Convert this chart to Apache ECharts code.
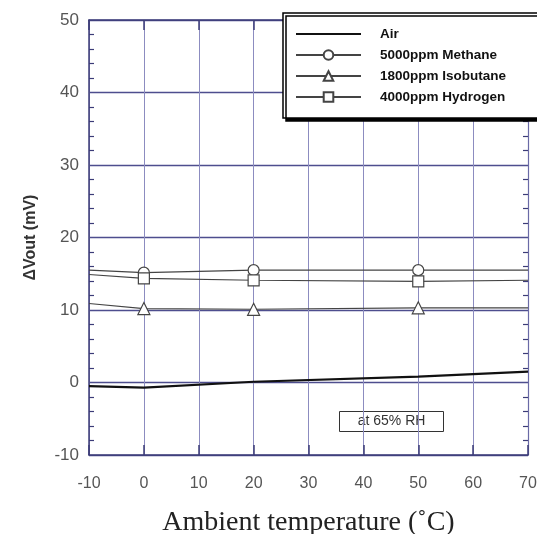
<!DOCTYPE html>
<html>
<head>
<meta charset="utf-8">
<script src="https://cdn.jsdelivr.net/npm/echarts@6/dist/echarts.min.js"></script>
<style>
  html, body { margin: 0; padding: 0; background: #fff; }
  #chart { width: 537px; height: 534px; }
</style>
</head>
<body>
<div id="chart"></div>
<script>
// temperatures where readings were taken
const temps = [-10, 0, 20, 50, 70]
// which readings carry a marker
const marked = [false, true, true, true, false]

const airVals = [-0.5, -0.7, 0.1, 0.8, 1.5]
const methaneVals = [15.5, 15.15, 15.5, 15.5, 15.5]
const isobutaneVals = [10.9, 10.2, 10.1, 10.3, 10.3]
const hydrogenVals = [14.9, 14.35, 14.1, 13.95, 14.1]

const seriesNames = ['Air', '5000ppm Methane', '1800ppm Isobutane', '4000ppm Hydrogen']

const xTicks = [-10, 0, 10, 20, 30, 40, 50, 60, 70]
const yTicks = [-10, 0, 10, 20, 30, 40, 50]

const chart = echarts.init(document.getElementById('chart'))

const toData = (vals) => vals.map((v, i) => {
  return marked[i] ? [temps[i], v] : { value: [temps[i], v], symbol: 'none' }
})

const navy = '#3c3c78'
const gridBlue = '#4e4e8e'
const vertBlue = '#8c8cc0'

const makeSeries = (name, vals, symbol, isAir) => ({
  name: name,
  type: 'line',
  data: isAir ? vals.map((v, i) => [temps[i], v]) : toData(vals),
  symbol: isAir ? 'none' : symbol,
  symbolSize: symbol === 'triangle' ? 12 : 11,
  showSymbol: !isAir,
  lineStyle: { color: isAir ? '#111' : '#444', width: isAir ? 2.2 : 1.2 },
  itemStyle: { color: '#fff', borderColor: '#444', borderWidth: 1.2 },
  z: isAir ? 4 : 3,
  animation: false
})

const option = {
  animation: false,
  grid: { left: 89, right: 9, top: 20, bottom: 79, containLabel: false, outerBoundsMode: 'none' },
  legend: {
    orient: 'vertical',
    left: 283,
    top: 13,
    padding: [14, 40, 14, 12],
    itemWidth: 65,
    itemHeight: 12,
    itemGap: 7,
    backgroundColor: '#fff',
    borderColor: '#000',
    borderWidth: 1.5,
    shadowColor: '#000',
    shadowBlur: 0,
    shadowOffsetX: 3,
    shadowOffsetY: 3,
    data: [
      { name: seriesNames[0], itemStyle: { opacity: 0 } },
      seriesNames[1],
      seriesNames[2],
      seriesNames[3]
    ],
    textStyle: {
      fontFamily: 'Liberation Sans, Arial, sans-serif',
      fontWeight: 'bold',
      fontSize: 13.5,
      color: '#111',
      padding: [0, 0, 0, 14]
    }
  },
  xAxis: [
    {
      type: 'value',
      position: 'bottom',
      min: -10,
      max: 70,
      interval: 10,
      name: 'Ambient temperature (˚C)',
      nameLocation: 'middle',
      nameGap: 54,
      nameTextStyle: { fontFamily: 'Liberation Serif, Times New Roman, serif', fontSize: 28, color: '#222' },
      axisLine: { show: true, onZero: false, lineStyle: { color: navy, width: 1.5 } },
      axisTick: { show: true, inside: true, length: 10, lineStyle: { color: navy, width: 1.5 } },
      axisLabel: {
        margin: 21,
        fontFamily: 'Liberation Sans, Arial, sans-serif',
        fontSize: 16,
        color: '#555',
        formatter: (v) => xTicks.includes(v) ? String(v) : ''
      },
      splitLine: { show: true, lineStyle: { color: vertBlue, width: 1 } }
    },
    {
      type: 'value',
      position: 'top',
      min: -10,
      max: 70,
      interval: 10,
      axisLine: { show: true, onZero: false, lineStyle: { color: navy, width: 1.5 } },
      axisTick: { show: true, inside: true, length: 10, lineStyle: { color: navy, width: 1.5 } },
      axisLabel: { show: false },
      splitLine: { show: false }
    }
  ],
  yAxis: [
    {
      type: 'value',
      position: 'left',
      min: -10,
      max: 50,
      interval: 10,
      name: 'ΔVout (mV)',
      nameLocation: 'middle',
      nameGap: 50,
      nameTextStyle: { fontFamily: 'Liberation Sans, Arial, sans-serif', fontSize: 16, fontWeight: 'bold', color: '#333' },
      axisLine: { show: true, onZero: false, lineStyle: { color: navy, width: 1.5 } },
      axisTick: { show: false, inside: true },
      minorTick: { show: true, splitNumber: 5, length: 5, lineStyle: { color: navy, width: 1.2 } },
      axisLabel: {
        margin: 10,
        fontFamily: 'Liberation Sans, Arial, sans-serif',
        fontSize: 17,
        color: '#555',
        formatter: (v) => yTicks.includes(v) ? String(v) : ''
      },
      splitLine: { show: true, lineStyle: { color: gridBlue, width: 1.3 } }
    },
    {
      type: 'value',
      position: 'right',
      min: -10,
      max: 50,
      interval: 10,
      axisLine: { show: true, onZero: false, lineStyle: { color: '#6a6aa6', width: 1.2 } },
      axisTick: { show: false, inside: true },
      minorTick: { show: true, splitNumber: 5, length: 5, lineStyle: { color: navy, width: 1.2 } },
      axisLabel: { show: false },
      splitLine: { show: false }
    }
  ],
  series: [
    makeSeries(seriesNames[0], airVals, 'none', true),
    makeSeries(seriesNames[1], methaneVals, 'circle', false),
    makeSeries(seriesNames[2], isobutaneVals, 'triangle', false),
    makeSeries(seriesNames[3], hydrogenVals, 'rect', false)
  ],
  graphic: [
    {
      type: 'group',
      left: 339,
      top: 411,
      z: 10,
      children: [
        {
          type: 'rect',
          shape: { x: 0, y: 0, width: 104, height: 20 },
          style: { fill: '#fff', stroke: '#333', lineWidth: 1 }
        },
        {
          type: 'text',
          x: 52,
          y: 10,
          style: {
            text: 'at 65% RH',
            fontFamily: 'Liberation Sans, Arial, sans-serif',
            fontSize: 14,
            fill: '#333',
            align: 'center',
            verticalAlign: 'middle'
          }
        }
      ]
    }
  ]
}

chart.setOption(option)
</script>
</body>
</html>
